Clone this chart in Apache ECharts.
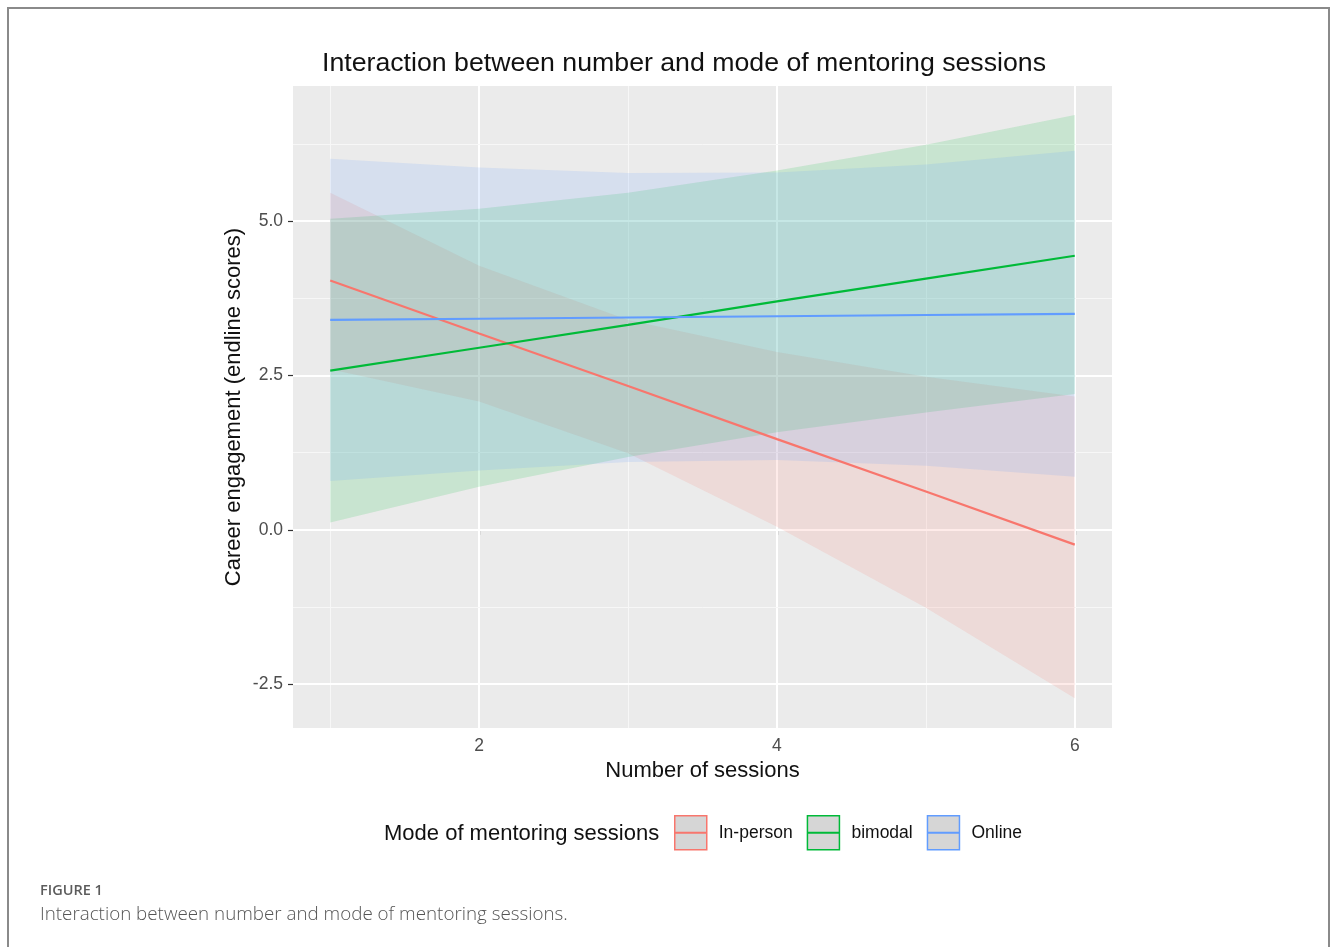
<!DOCTYPE html>
<html><head><meta charset="utf-8">
<script src="https://cdn.jsdelivr.net/npm/echarts@6/dist/echarts.min.js"></script>
<style>html,body{margin:0;padding:0;background:#fff}#c{width:1333px;height:947px}</style>
</head><body><div id="c"></div>
<script>
// ---- data ----
const xs = [1, 2, 3, 4, 5, 6];
const seriesNames = ['In-person', 'bimodal', 'Online'];
const inPersonFit   = [4.04, 3.18, 2.33, 1.47, 0.62, -0.24];
const inPersonUpper = [5.46, 4.28, 3.40, 2.88, 2.48, 2.16];
const inPersonLower = [2.60, 2.08, 1.24, 0.05, -1.26, -2.73];
const bimodalFit    = [2.58, 2.95, 3.32, 3.70, 4.07, 4.44];
const bimodalUpper  = [5.04, 5.20, 5.46, 5.82, 6.24, 6.72];
const bimodalLower  = [0.12, 0.70, 1.18, 1.58, 1.90, 2.20];
const onlineFit     = [3.40, 3.42, 3.44, 3.46, 3.48, 3.50];
const onlineUpper   = [6.01, 5.87, 5.78, 5.79, 5.92, 6.14];
const onlineLower   = [0.79, 0.96, 1.10, 1.13, 1.04, 0.86];
const xTicks = [2, 4, 6];
const xMinor = [1, 3, 5];
const yTicks = [-2.5, 0, 2.5, 5];
const yMinor = [-1.25, 1.25, 3.75, 6.25];

const colors = ['#F8766D', '#00BA38', '#619CFF'];
const fits = [inPersonFit, bimodalFit, onlineFit];
const uppers = [inPersonUpper, bimodalUpper, onlineUpper];
const lowers = [inPersonLower, bimodalLower, onlineLower];
const FONT = 'Liberation Sans, Arial, sans-serif';

const chart = echarts.init(document.getElementById('c'), null, {renderer: 'canvas'});

function ribbonSeries(i) {
  const rows = xs.map((x, k) => [x, lowers[i][k], uppers[i][k]]);
  return {
    type: 'custom', name: seriesNames[i] + ' band', z: 2, silent: true,
    data: rows,
    encode: {x: 0, y: [1, 2]},
    renderItem: function (params, api) {
      if (params.dataIndex !== 0) return null;
      const pts = [];
      for (let k = 0; k < xs.length; k++) pts.push(api.coord([xs[k], uppers[i][k]]));
      for (let k = xs.length - 1; k >= 0; k--) pts.push(api.coord([xs[k], lowers[i][k]]));
      return {type: 'polygon', shape: {points: pts}, style: {fill: colors[i], opacity: 0.15}};
    }
  };
}

function lineSeries(i) {
  return {
    type: 'line', name: seriesNames[i], z: 3, silent: true,
    data: xs.map((x, k) => [x, fits[i][k]]),
    showSymbol: false, symbol: 'none',
    lineStyle: {color: colors[i], width: 2.2},
    itemStyle: {color: colors[i]}
  };
}

const gridLines = [];
xTicks.forEach(v => gridLines.push({xAxis: v, lineStyle: {color: '#ffffff', width: 2, type: 'solid'}}));
xMinor.forEach(v => gridLines.push({xAxis: v, lineStyle: {color: '#f7f7f7', width: 1, type: 'solid'}}));
yTicks.forEach(v => gridLines.push({yAxis: v, lineStyle: {color: '#ffffff', width: 2, type: 'solid'}}));
yMinor.forEach(v => gridLines.push({yAxis: v, lineStyle: {color: '#f7f7f7', width: 1, type: 'solid'}}));

const keyPath = 'path://M0,0H32V34H0ZM1,16.7H31V17.3H1Z';

const option = {
  animation: false,
  backgroundColor: '#ffffff',
  title: {
    text: 'Interaction between number and mode of mentoring sessions',
    left: 679, top: 45, textAlign: 'center',
    textStyle: {fontFamily: FONT, fontSize: 26.7, fontWeight: 'normal', color: '#111'}
  },
  grid: {left: 293, top: 86, width: 819, height: 642, show: true, backgroundColor: '#EBEBEB', borderWidth: 0, containLabel: false},
  xAxis: {
    type: 'value', min: 0.75, max: 6.25,
    name: 'Number of sessions', nameLocation: 'middle', nameGap: 30,
    nameTextStyle: {fontFamily: FONT, fontSize: 22, color: '#111'},
    axisLine: {show: false},
    axisTick: {show: true, length: 5, customValues: xTicks, lineStyle: {color: '#333', width: 1.2}},
    axisLabel: {customValues: xTicks, margin: 9, fontFamily: FONT, fontSize: 17.5, color: '#4D4D4D'},
    splitLine: {show: false}
  },
  yAxis: {
    type: 'value', min: -3.21, max: 7.19,
    name: 'Career engagement (endline scores)', nameLocation: 'middle', nameGap: 48,
    nameMoveOverlap: false,
    nameTextStyle: {fontFamily: FONT, fontSize: 22, color: '#111'},
    axisLine: {show: false},
    axisTick: {show: true, length: 5, customValues: yTicks, lineStyle: {color: '#333', width: 1.2}},
    axisLabel: {customValues: yTicks, margin: 10, fontFamily: FONT, fontSize: 17.5, color: '#4D4D4D',
      formatter: v => v.toFixed(1)},
    splitLine: {show: false}
  },
  legend: {
    left: 674, top: 815, orient: 'horizontal', padding: 0,
    itemWidth: 32, itemHeight: 34, itemGap: 14, selectedMode: false,
    data: seriesNames.map((n, i) => ({name: n, icon: keyPath,
      itemStyle: {color: '#D6D6D6', borderColor: colors[i], borderWidth: 1.5}})),
    textStyle: {fontFamily: FONT, fontSize: 17.5, color: '#111', padding: [0, 0, 0, 7]}
  },
  graphic: [
    {type: 'rect', silent: true, z: -10,
      shape: {x: 8, y: 8, width: 1321, height: 970}, style: {fill: 'none', stroke: '#8a8a8a', lineWidth: 2}},
    {type: 'text', left: 384, top: 823, silent: true,
      style: {text: 'Mode of mentoring sessions', font: '22px Liberation Sans, Arial, sans-serif', fill: '#111'}},
    {type: 'text', left: 40, top: 883, silent: true,
      style: {text: 'FIGURE 1', font: '600 14.5px Open Sans, Lato, sans-serif', fill: '#5c5c5c'}},
    {type: 'text', left: 40, top: 905, silent: true,
      style: {text: 'Interaction between number and mode of mentoring sessions.', font: '300 18.8px Open Sans, Lato, sans-serif', fill: '#555'}}
  ],
  series: [
    {type: 'line', name: 'grid', z: 1, silent: true, data: [], showSymbol: false,
      markLine: {silent: true, symbol: ['none', 'none'], z: 1, label: {show: false}, animation: false, data: gridLines}},
    ribbonSeries(0), ribbonSeries(1), ribbonSeries(2),
    lineSeries(0), lineSeries(1), lineSeries(2)
  ]
};
chart.setOption(option);
</script>
</body></html>
